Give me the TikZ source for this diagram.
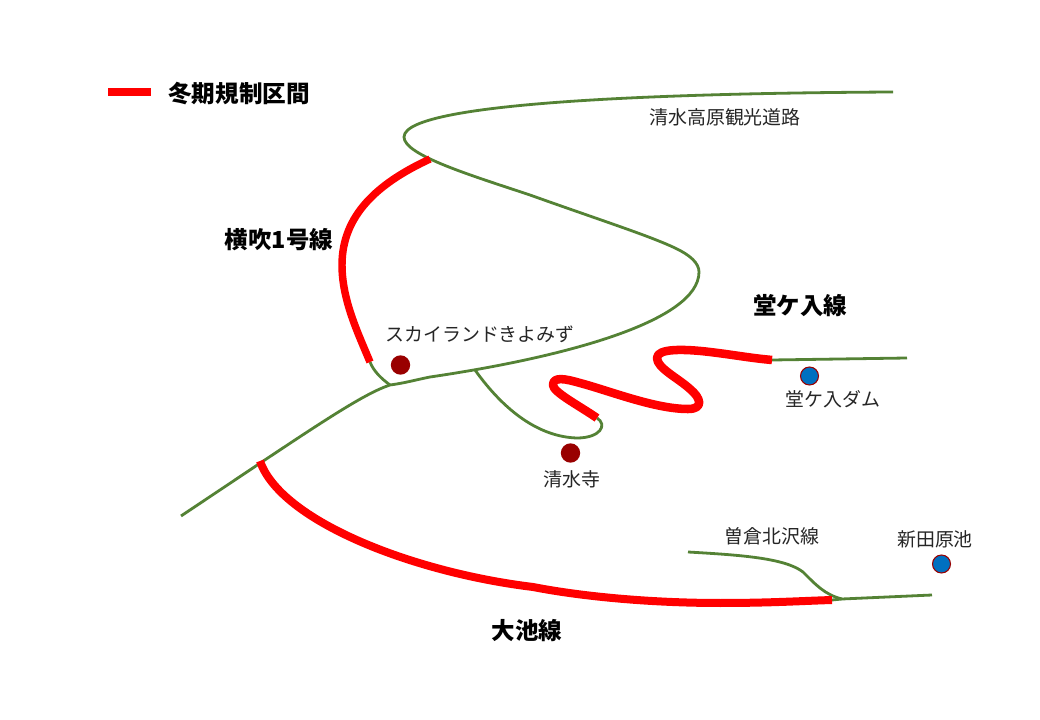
\documentclass[tikz,border=0pt]{standalone}
\usepackage{fontspec}
\setmainfont{Noto Sans CJK JP}
\begin{document}
\begin{tikzpicture}[x=0.75pt,y=-0.75pt,
  road/.style={draw=roadgreen,line width=2.1pt,line join=round},
  closed/.style={draw=red,line width=5.6pt,line join=round},
  site/.style={circle,fill=darkred,minimum size=14.5pt,inner sep=0pt},
  water/.style={circle,fill=waterblue,draw=darkred,line width=0.8pt,minimum size=13.5pt,inner sep=0pt},
  place/.style={text=black!85,font=\fontsize{14.2pt}{17pt}\selectfont,inner sep=0pt},
  routename/.style={text=black,font=\fontsize{17.6pt}{21pt}\selectfont\bfseries,inner sep=0pt}]
\definecolor{roadgreen}{HTML}{548235}
\definecolor{darkred}{HTML}{990000}
\definecolor{waterblue}{HTML}{0070C0}
\useasboundingbox (0,0) rectangle (1040,720);
\fill[white] (0,0) rectangle (1040,720);
% named points
\coordinate (kiyoEnd) at (893,92);
\coordinate (hair) at (404,137);
\coordinate (bend) at (699,272);
\coordinate (jn1) at (430,377);
\coordinate (jn2) at (390,385);
\coordinate (west) at (181,516);
\coordinate (yoko1) at (430,159);
\coordinate (yoko2) at (370,362);
\coordinate (dera) at (475,370);
\coordinate (dera2) at (597,418);
\coordinate (doga) at (772,360);
\coordinate (dogaE) at (907,358);
\coordinate (oike1) at (260,461);
\coordinate (oike2) at (832,600);
\coordinate (so1) at (688,552);
\coordinate (so2) at (842,599);
\coordinate (oikeE) at (932,595);
\coordinate (leg1) at (108,92);
\coordinate (leg2) at (151,92);
% green roads
\draw[road] (kiyoEnd) .. controls (700,93) and (404,100) .. (hair)
  .. controls (404,155) and (470,175) .. (530,195)
  .. controls (600,220) and (650,236) .. (675,248)
  .. controls (690,255) and (699,263) .. (bend)
  .. controls (699,322) and (560,358) .. (jn1)
  .. controls (415,380) and (405,383) .. (jn2)
  .. controls (360,395) and (310,430) .. (west);
\draw[road] (yoko2) .. controls (374,372) and (382,379) .. (jn2);
\draw[road] (dera) .. controls (505,412) and (540,437) .. (577,438)
  .. controls (600,438) and (608,425) .. (dera2);
\draw[road] (doga) -- (dogaE);
\draw[road] (so1) .. controls (740,555) and (785,558) .. (803,572)
  .. controls (815,584) and (825,595) .. (so2);
\draw[road] (oike2) -- (so2) -- (oikeE);
% red sections
\draw[closed] (leg1) -- (leg2);
\draw[closed] (yoko1) .. controls (378,183) and (342,215) .. (342,265)
  .. controls (342,300) and (358,333) .. (yoko2);
\draw[closed,line width=6.4pt] (dera2) .. controls (578,405) and (553,392) .. (553,385)
  .. controls (553,376) and (566,379) .. (580,383)
  .. controls (610,391) and (655,409) .. (688,409)
  .. controls (704,409) and (701,398) .. (690,389)
  .. controls (678,378) and (657,368) .. (657,358)
  .. controls (657,348) and (685,349) .. (710,352)
  .. controls (735,355) and (750,358) .. (doga);
\draw[closed,line width=6pt] (oike1) .. controls (280,520) and (410,572) .. (533,587)
  .. controls (590,598) and (660,603) .. (720,603)
  .. controls (770,603) and (800,601) .. (oike2);
% markers
\node[site] (sky) at (400.5,365) {};
\node[site] (temple) at (570.5,453) {};
\node[water] (dam) at (809.5,376) {};
\node[water] (pond) at (941.5,564) {};
% labels
\node[anchor=west,text=black,font=\fontsize{17.7pt}{21pt}\selectfont\bfseries,inner sep=0pt] (legend) at (168,93.5) {冬期規制区間};
\node[place] (lkiyo) at (725,117) {清水高原観光道路};
\node[routename] (lyoko) at (279,240) {横吹1号線};
\node[routename] (ldoga) at (800,306) {堂ケ入線};
\node[routename] (loike) at (527,631) {大池線};
\node[place] (lsky) at (480,334) {スカイランドきよみず};
\node[place] (ltemple) at (572,479) {清水寺};
\node[place] (ldam) at (833,399) {堂ケ入ダム};
\node[place] (lso) at (772,536) {曽倉北沢線};
\node[place] (lpond) at (935,539) {新田原池};
\end{tikzpicture}
\end{document}
